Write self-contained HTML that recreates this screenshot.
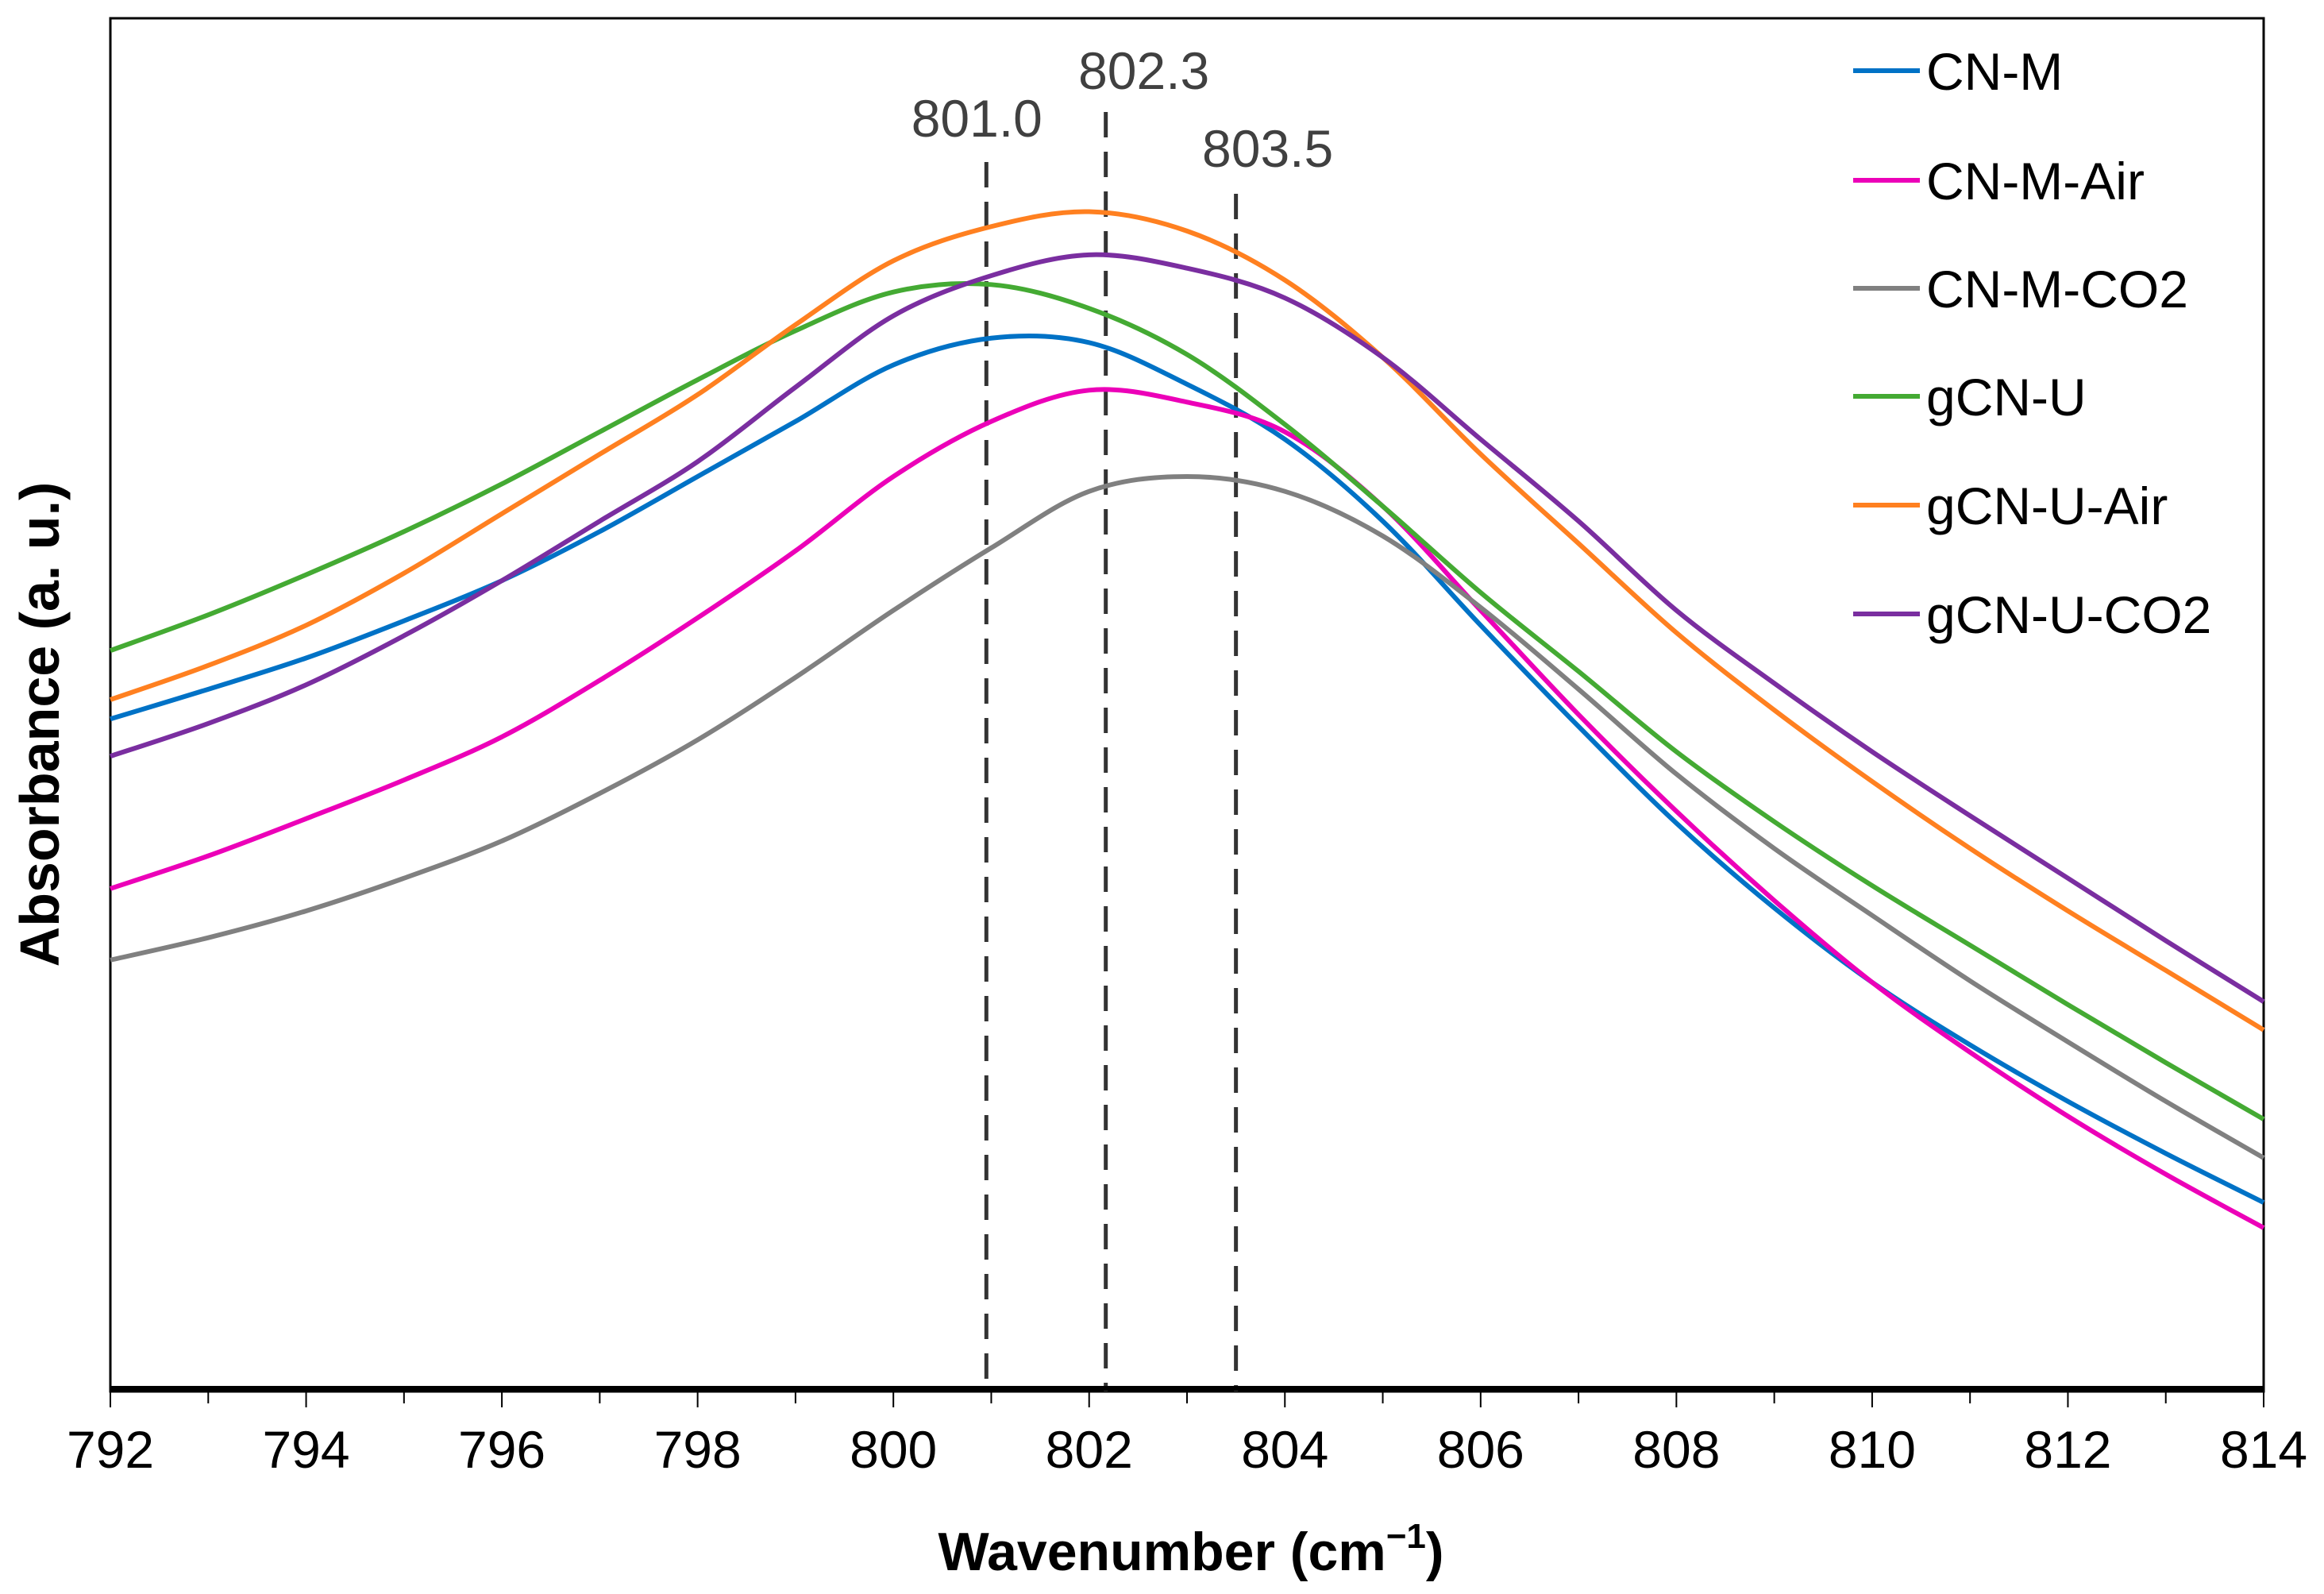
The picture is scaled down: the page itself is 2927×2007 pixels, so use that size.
<!DOCTYPE html>
<html><head><meta charset="utf-8">
<style>
html,body{margin:0;padding:0;background:#fff;}
svg{display:block;font-family:"Liberation Sans",Arial,sans-serif;}
</style></head>
<body>
<svg id="chart" width="2927" height="2007" viewBox="0 0 2927 2007" xmlns="http://www.w3.org/2000/svg">
<rect x="0" y="0" width="2927" height="2007" fill="#fff"/>
<g id="plot"></g>
</svg>
<script>
// Data (wavenumber in cm^-1, absorbance in arbitrary units)
const wavenumbers = [792,793,794,795,796,797,798,799,800,801,802,803,804,805,806,807,808,809,810,811,812,813,814];
const cnM     = [452,472,493,518,545,578,615,652,690,708,705,677,640,585,515,447,382,325,275,233,195,160,127];
const cnMAir  = [338,360,385,411,440,478,520,565,615,652,673,665,645,595,525,455,390,330,275,228,185,146,110];
const cnMCO2  = [290,305,323,345,370,402,438,480,525,567,605,615,605,575,527,472,415,365,320,276,235,195,157];
const gcnU    = [498,522,549,578,610,645,680,713,739,744,728,697,650,595,537,484,430,383,340,300,260,221,183];
const gcnUAir = [465,488,515,550,590,630,670,717,760,783,793,780,747,695,630,570,510,458,410,365,323,283,243];
const gcnUCO2 = [427,449,475,508,545,585,625,675,723,750,764,755,735,695,640,585,525,476,430,387,345,303,262];
const seriesNames = ["CN-M","CN-M-Air","CN-M-CO2","gCN-U","gCN-U-Air","gCN-U-CO2"];
const seriesColors = ["#0072c6","#ec00b8","#808080","#44aa33","#ff8020","#7a2ea0"];
const xTickLabels = ["792","794","796","798","800","802","804","806","808","810","812","814"];
const peakMarkers = [800.95, 802.17, 803.5];
const peakLabels = ["801.0","802.3","803.5"];

const X0=139, X1=2851, Y0=1752, Y1=23;
const xMin=792, xMax=814, yMin=0, yMax=923;
const sx = w => X0 + (w-xMin)/(xMax-xMin)*(X1-X0);
const sy = v => Y0 - (v-yMin)/(yMax-yMin)*(Y0-Y1);
const NS="http://www.w3.org/2000/svg";
const g=document.getElementById('plot');
function mk(tag, attrs, parent){const e=document.createElementNS(NS,tag);for(const k in attrs)e.setAttribute(k,attrs[k]);(parent||g).appendChild(e);return e;}

// frame
let frame=mk('rect',{x:X0,y:Y1,width:X1-X0,height:Y0-Y1,fill:'none',stroke:'#000','stroke-width':3});



// dashed peak lines
const peakTops=[204,141,244];
const labelY=[172,112,210];
const labelOff=[-12,48,40];
peakMarkers.forEach((p,i)=>{
  const l=mk('line',{x1:sx(p),x2:sx(p),y1:peakTops[i],y2:Y0,stroke:'#333','stroke-width':5,'stroke-dasharray':'32,18'});
  
  
  const t=mk('text',{x:sx(p)+labelOff[i],y:labelY[i],'font-size':66,fill:'#404040','text-anchor':'middle'});
  t.textContent=peakLabels[i];
  
  
});

// curves
function pathFor(vals){
  const pts=wavenumbers.map((w,i)=>[sx(w),sy(vals[i])]);
  let d='M'+pts[0][0]+','+pts[0][1];
  for(let i=0;i<pts.length-1;i++){
    const p0=pts[Math.max(0,i-1)],p1=pts[i],p2=pts[i+1],p3=pts[Math.min(pts.length-1,i+2)];
    const c1=[p1[0]+(p2[0]-p0[0])/6,p1[1]+(p2[1]-p0[1])/6];
    const c2=[p2[0]-(p3[0]-p1[0])/6,p2[1]-(p3[1]-p1[1])/6];
    d+=' C'+c1[0]+','+c1[1]+' '+c2[0]+','+c2[1]+' '+p2[0]+','+p2[1];
  }
  return d;
}
const allSeries=[cnM,cnMAir,cnMCO2,gcnU,gcnUAir,gcnUCO2];
allSeries.forEach((vals,i)=>{
  const p=mk('path',{d:pathFor(vals),fill:'none',stroke:seriesColors[i],'stroke-width':6,'stroke-linejoin':'round'});
  
  
});

// axes
let ax=mk('line',{x1:X0,x2:X1,y1:Y0-4,y2:Y0-4,stroke:'#000','stroke-width':6});


for(let w=xMin;w<=xMax;w++){
  const major=(w%2===0);
  const t=mk('line',{x1:sx(w),x2:sx(w),y1:Y0,y2:Y0+(major?20:15),stroke:'#000','stroke-width':2});
  
  
}
xTickLabels.forEach(lbl=>{
  const t=mk('text',{x:sx(+lbl),y:1848,'font-size':66,'text-anchor':'middle',fill:'#000'});
  t.textContent=lbl;
  
  
});
let xt=mk('text',{x:1500,y:1977,'font-size':68,'font-weight':'bold','text-anchor':'middle',fill:'#000'});
xt.innerHTML='Wavenumber (cm<tspan font-size="44" dy="-28">−1</tspan><tspan dy="28">)</tspan>';


let yt=mk('text',{x:0,y:0,'font-size':70,'font-weight':'bold','text-anchor':'middle',fill:'#000',transform:'translate(74,912) rotate(-90)'});
yt.textContent='Absorbance (a. u.)';



// legend
const legY=[89,227,363,499,636,773];
seriesNames.forEach((n,i)=>{
  const lg=mk('g',{});
  
  
  mk('line',{x1:2334,x2:2418,y1:legY[i],y2:legY[i],stroke:seriesColors[i],'stroke-width':6},lg);
  const t=mk('text',{x:2426,y:legY[i]+24,'font-size':66,fill:'#000'},lg);
  t.textContent=n;
});
</script>
</body></html>
